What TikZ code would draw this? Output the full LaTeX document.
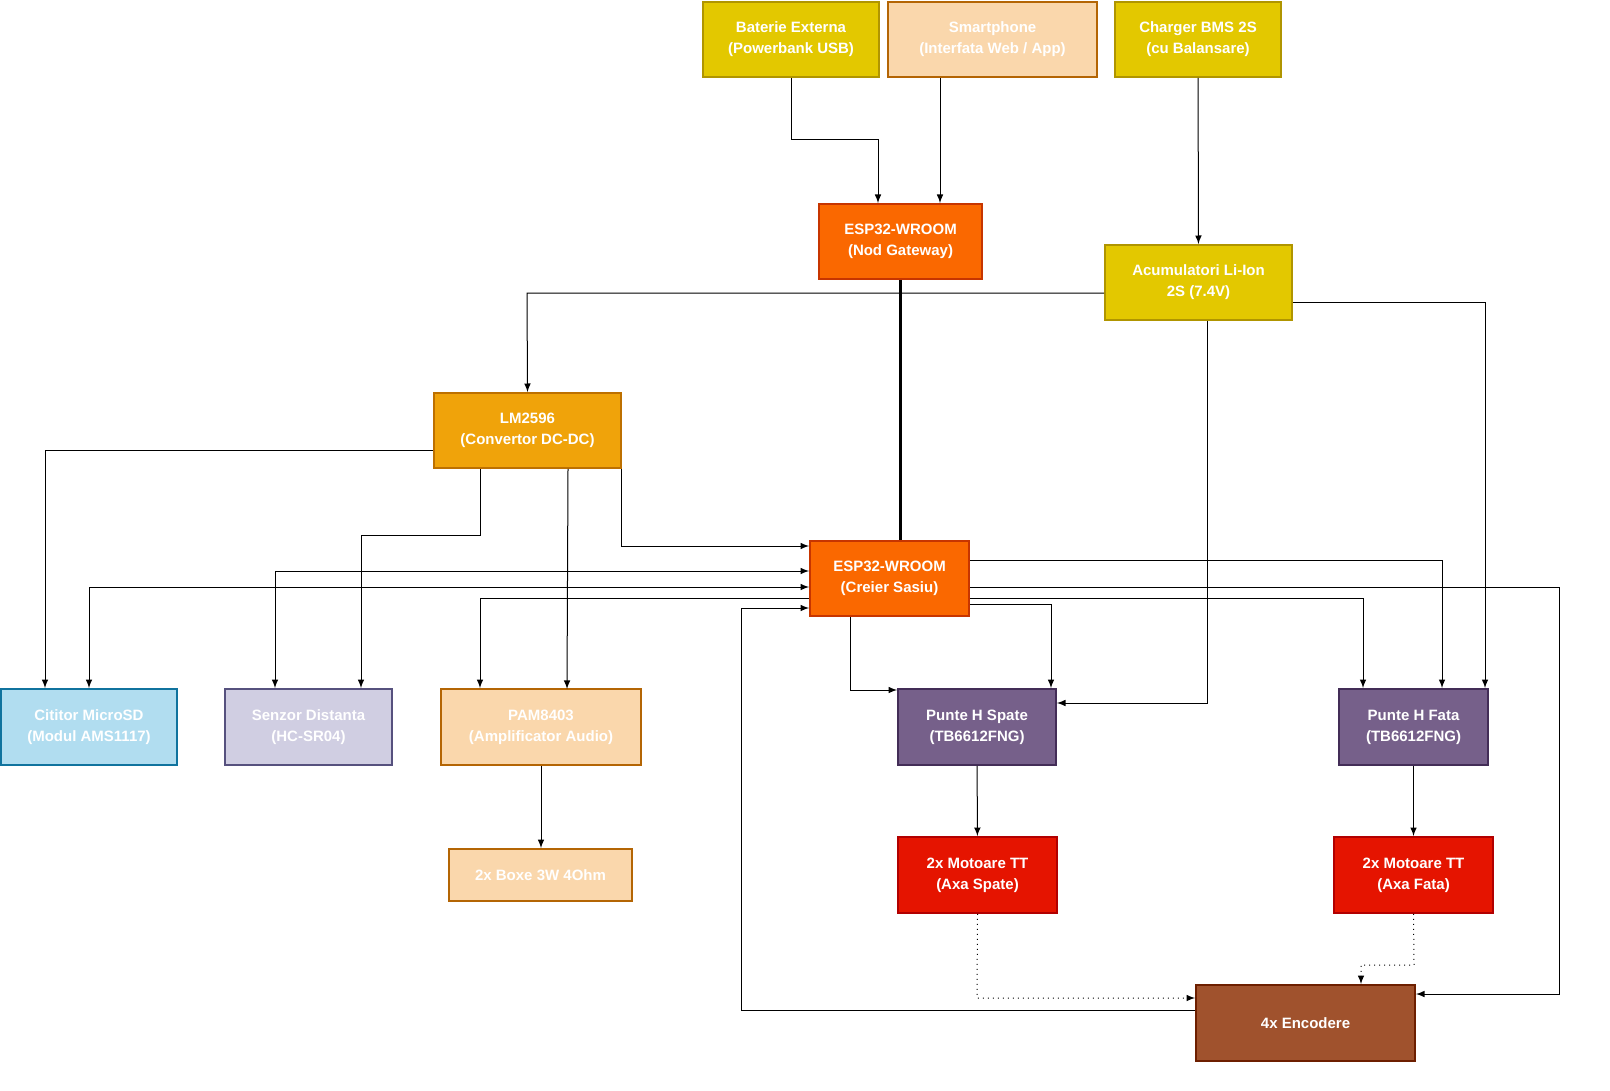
\documentclass[tikz,border=0pt]{standalone}
\usepackage{fontspec}
\setmainfont{Liberation Sans}
\begin{document}
\begin{tikzpicture}[x=0.5pt,y=-0.5pt,
 box/.style={draw=#1,line width=0.9pt,font=\fontsize{7.5}{9}\selectfont\bfseries,text=white,align=center,inner sep=0},
 e/.style={line width=0.5pt,-latex},
 b/.style={line width=0.5pt,latex-latex},
 d/.style={line width=0.5pt,dotted,-latex}]
\useasboundingbox (0,0) rectangle (1610,1091);
\newcommand\bx[7]{\node[box=#6,fill=#5,minimum width={(#3-#1)*0.5pt},minimum height={(#4-#2)*0.5pt}] (#7) at ({(#1+#3)/2},{(#2+#4)/2}) {};}
\definecolor{yf}{HTML}{E3C800}\definecolor{yd}{HTML}{B09500}
\definecolor{pf}{HTML}{FAD7AC}\definecolor{pd}{HTML}{B46504}
\definecolor{of}{HTML}{FA6800}\definecolor{od}{HTML}{C73500}
\definecolor{af}{HTML}{F0A30A}\definecolor{ad}{HTML}{BD7000}
\definecolor{bf}{HTML}{B1DDF0}\definecolor{bd}{HTML}{10739E}
\definecolor{lf}{HTML}{D0CEE2}\definecolor{ld}{HTML}{56517E}
\definecolor{vf}{HTML}{76608A}\definecolor{vd}{HTML}{432D57}
\definecolor{rf}{HTML}{E51400}\definecolor{rd}{HTML}{B20000}
\definecolor{nf}{HTML}{A0522D}\definecolor{nd}{HTML}{6D1F00}
\bx{703}{2}{879}{77}{yf}{yd}{bat}
\bx{888}{2}{1097}{77}{pf}{pd}{sm}
\bx{1115}{2}{1281}{77}{yf}{yd}{ch}
\bx{819}{204}{982}{279}{of}{od}{gw}
\bx{1105}{245}{1292}{320}{yf}{yd}{acc}
\bx{434}{393}{621}{468}{af}{ad}{lm}
\bx{810}{541}{969}{616}{of}{od}{cr}
\bx{1}{689}{177}{765}{bf}{bd}{sd}
\bx{225}{689}{392}{765}{lf}{ld}{sz}
\bx{441}{689}{641}{765}{pf}{pd}{pam}
\bx{449}{849}{632}{901}{pf}{pd}{bx}
\bx{898}{689}{1056}{765}{vf}{vd}{phs}
\bx{1339}{689}{1488}{765}{vf}{vd}{phf}
\bx{898}{837}{1057}{913}{rf}{rd}{ms}
\bx{1334}{837}{1493}{913}{rf}{rd}{mf}
\bx{1196}{985}{1415}{1061}{nf}{nd}{enc}
\tikzset{t/.style={font=\fontsize{7.5}{10.5}\selectfont\bfseries,text=white,align=center}}
\node[t] at (bat) {Baterie Externa\\(Powerbank USB)};
\node[t] at (sm) {Smartphone\\(Interfata Web / App)};
\node[t] at (ch) {Charger BMS 2S\\(cu Balansare)};
\node[t] at (gw) {ESP32-WROOM\\(Nod Gateway)};
\node[t] at (acc) {Acumulatori Li-Ion\\2S (7.4V)};
\node[t] at (lm) {LM2596\\(Convertor DC-DC)};
\node[t] at (cr) {ESP32-WROOM\\(Creier Sasiu)};
\node[t] at (sd) {Cititor MicroSD\\(Modul AMS1117)};
\node[t] at (sz) {Senzor Distanta\\(HC-SR04)};
\node[t] at (pam) {PAM8403\\(Amplificator Audio)};
\node[t] at (bx) {2x Boxe 3W 4Ohm};
\node[t] at (phs) {Punte H Spate\\(TB6612FNG)};
\node[t] at (phf) {Punte H Fata\\(TB6612FNG)};
\node[t] at (ms) {2x Motoare TT\\(Axa Spate)};
\node[t] at (mf) {2x Motoare TT\\(Axa Fata)};
\node[t] at (enc) {4x Encodere};
% edges
\draw[e] (bat.south -| 791,0) -- (791,140) -- (878,140) -- (gw.north -| 878,0);
\draw[e] (sm.south -| 940,0) -- (gw.north -| 940,0);
\draw[e] (ch) -- (acc);
\draw[line width=1.4pt] (gw.south) -- (cr.north -| gw.south);
\draw[e] (acc.west |- 0,293) -- (527,293) -- (lm.north);
\draw[e] (acc.east |- 0,302) -- (1485,302) -- (phf.north -| 1485,0);
\draw[e] (acc.south -| 1207,0) -- (1207,703) -- (phs.east |- 0,703);
\draw[e] (lm.west |- 0,450) -- (45,450) -- (sd.north -| 45,0);
\draw[e] (lm.south -| 480,0) -- (480,535) -- (361,535) -- (sz.north -| 361,0);
\draw[e] (lm.south -| 568,0) -- (567,689);
\draw[e] (lm.south -| 621,0) -- (621,546) -- (cr.west |- 0,546);
\draw[b] (sz.north -| 275,0) -- (275,571) -- (cr.west |- 0,571);
\draw[b] (sd.north -| 89,0) -- (89,587) -- (cr.west |- 0,587);
\draw[e] (cr.west |- 0,598) -- (480,598) -- (pam.north -| 480,0);
\draw[e] (cr.east |- 0,560) -- (1442,560) -- (phf.north -| 1442,0);
\draw[e] (cr.east |- 0,598) -- (1363,598) -- (phf.north -| 1363,0);
\draw[e] (cr.east |- 0,604) -- (1051,604) -- (phs.north -| 1051,0);
\draw[e] (cr.south -| 850,0) -- (850,690) -- (phs.west |- 0,690);
\draw[e] (cr.east |- 0,587) -- (1559,587) -- (1559,994) -- (enc.east |- 0,994);
\draw[e] (enc.west |- 0,1010) -- (741,1010) -- (741,608) -- (cr.west |- 0,608);
\draw[e] (pam.south -| 541,0) -- (bx.north -| 541,0);
\draw[e] (phs) -- (ms);
\draw[e] (phf) -- (mf);
\draw[d] (ms.south) -- (977,998) -- (enc.west |- 0,998);
\draw[d] (mf.south) -- (1414,965) -- (1361,965) -- (enc.north -| 1361,0);
\end{tikzpicture}
\end{document}
